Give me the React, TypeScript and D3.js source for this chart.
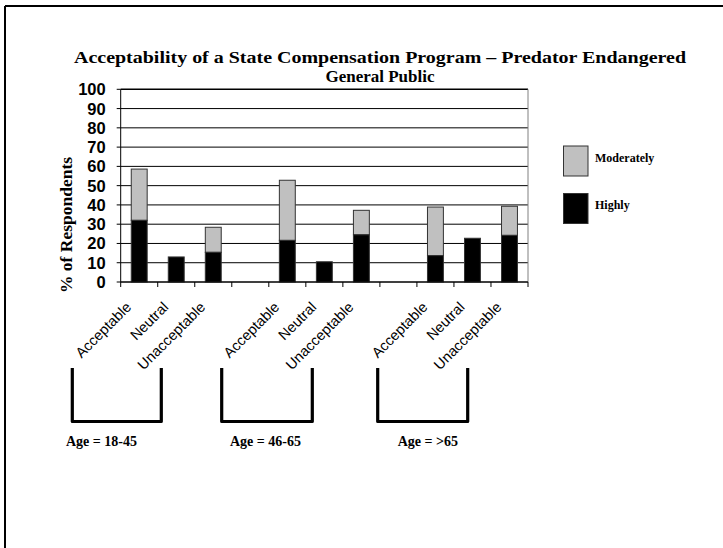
import React from "react";
import * as d3 from "d3";

const categories = [
  "Acceptable", "Neutral", "Unacceptable", "",
  "Acceptable", "Neutral", "Unacceptable", "",
  "Acceptable", "Neutral", "Unacceptable",
];
const highly = [32, 13, 15.4, 0, 21.6, 10.5, 24.5, 0, 13.7, 22.7, 24.2];
const moderately = [26.6, 0, 13, 0, 31.2, 0, 12.7, 0, 25.2, 0, 15.1];
const yTicks = [0, 10, 20, 30, 40, 50, 60, 70, 80, 90, 100];
const groups = ["Age = 18-45", "Age = 46-65", "Age = >65"];
const seriesNames = ["Moderately", "Highly"];
const seriesColors = ["#c0c0c0", "#000000"];

export default function App() {
  const W = 723, H = 548;
  const left = 120.7, right = 528, top = 89.3, bottom = 282;
  const x = d3.scaleBand<number>().domain(d3.range(categories.length)).range([left, right]).paddingInner(0).paddingOuter(0);
  const y = d3.scaleLinear().domain([0, 100]).range([bottom, top]);
  const bw = x.bandwidth() * 0.43;
  const serif = "'Liberation Serif', 'Times New Roman', serif";
  const sans = "'Liberation Sans', Arial, sans-serif";
  const slotEdges = d3.range(categories.length + 1).map((i) => left + i * x.bandwidth());
  const bracketL = [72.3, 221.7, 377.7];
  const bracketR = [161.3, 312.3, 467.7];
  const groupLabelX = [66, 230, 397.7];

  return (
    <svg width={W} height={H} style={{ position: "absolute", left: 0, top: 0, background: "#fff" }}>
      <rect x={0} y={0} width={W} height={H} fill="#fff" />
      <line x1={5} y1={6} x2={W} y2={6} stroke="#000" strokeWidth={2} />
      <line x1={5} y1={6} x2={5} y2={H} stroke="#000" strokeWidth={2} />
      <text x={380} y={63} textAnchor="middle" fontFamily={serif} fontWeight="bold" fontSize={17} textLength={612} lengthAdjust="spacingAndGlyphs">
        Acceptability of a State Compensation Program – Predator Endangered
      </text>
      <text x={380} y={82} textAnchor="middle" fontFamily={serif} fontWeight="bold" fontSize={17}>
        General Public
      </text>
      {/* gridlines */}
      {yTicks.map((t) => (
        <line key={"g" + t} x1={left} x2={right} y1={y(t)} y2={y(t)} stroke="#000" strokeWidth={t === 100 ? 1.6 : 1} />
      ))}
      <line x1={right} x2={right} y1={top} y2={bottom} stroke="#808080" strokeWidth={1} />
      {/* bars */}
      {categories.map((c, i) => {
        if (!c) return null;
        const cx = x(i)! + x.bandwidth() / 2;
        const h0 = highly[i];
        const m = moderately[i];
        return (
          <g key={"b" + i}>
            {m > 0 && (
              <rect x={cx - bw / 2} y={y(h0 + m)} width={bw} height={y(h0) - y(h0 + m)} fill={seriesColors[0]} stroke="#333" strokeWidth={1} />
            )}
            <rect x={cx - bw / 2} y={y(h0)} width={bw} height={y(0) - y(h0)} fill={seriesColors[1]} stroke="#333" strokeWidth={1} />
          </g>
        );
      })}
      {/* axes */}
      <line x1={left} x2={left} y1={top} y2={bottom} stroke="#000" strokeWidth={1} />
      <line x1={left} x2={right} y1={bottom} y2={bottom} stroke="#000" strokeWidth={1} />
      {yTicks.map((t) => (
        <g key={"yt" + t}>
          <line x1={left - 4} x2={left} y1={y(t)} y2={y(t)} stroke="#000" />
          <text x={left - 15} y={y(t)} dy="0.36em" textAnchor="end" fontFamily={sans} fontWeight="bold" fontSize={16.5}>
            {t}
          </text>
        </g>
      ))}
      {slotEdges.map((e, i) => (
        <line key={"xt" + i} x1={e} x2={e} y1={bottom} y2={bottom + 5} stroke="#000" />
      ))}
      {categories.map((c, i) => {
        if (!c) return null;
        const cx = x(i)! + x.bandwidth() / 2;
        return (
          <text key={"xl" + i} transform={`translate(${cx - 7},308) rotate(-45)`} textAnchor="end" fontFamily={sans} fontSize={14.5}>
            {c}
          </text>
        );
      })}
      <text transform="translate(72,225) rotate(-90)" textAnchor="middle" fontFamily={serif} fontWeight="bold" fontSize={17.5}>
        % of Respondents
      </text>
      {/* brackets */}
      {groups.map((g, gi) => {
        const l = bracketL[gi], r = bracketR[gi];
        return (
          <path key={"br" + gi} d={`M${l},368 L${l},421.5 L${r},421.5 L${r},368`} fill="none" stroke="#000" strokeWidth={3.2} strokeLinejoin="round" />
        );
      })}
      {groups.map((g, gi) => (
        <text key={"gl" + gi} x={groupLabelX[gi]} y={446} fontFamily={serif} fontWeight="bold" fontSize={14}>
          {g}
        </text>
      ))}
      {/* legend */}
      {seriesNames.map((s, i) => (
        <g key={"lg" + i}>
          <rect x={563.5} y={146 + i * 47.5} width={24.5} height={30} fill={seriesColors[i]} stroke="#333" strokeWidth={1} />
          <text x={595} y={157.5 + i * 47.5} dy="0.35em" fontFamily={serif} fontWeight="bold" fontSize={12}>
            {s}
          </text>
        </g>
      ))}
    </svg>
  );
}
